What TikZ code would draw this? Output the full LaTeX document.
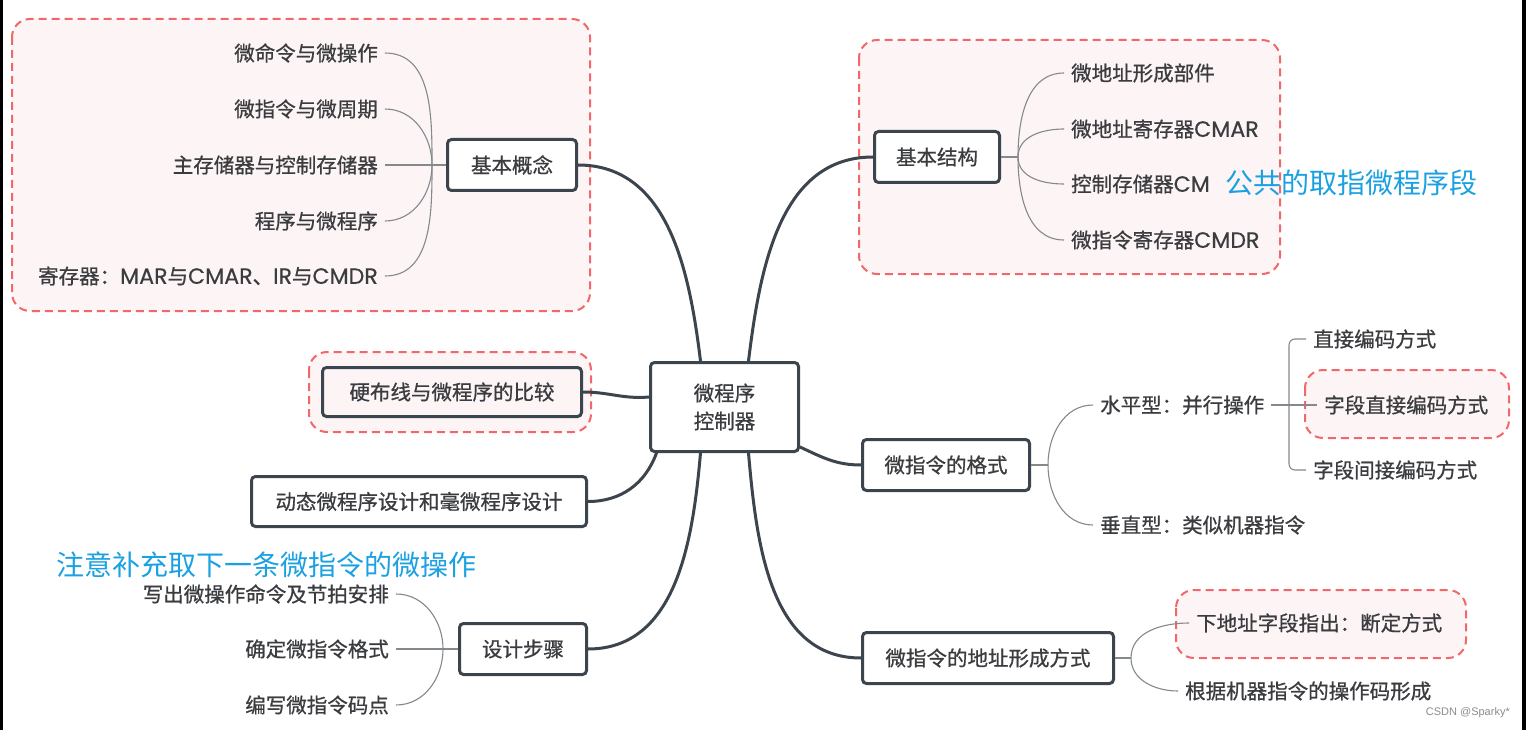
\documentclass[tikz,border=0pt]{standalone}
\usepackage{fontspec}
\setmainfont{Noto Sans CJK SC}[FakeBold=0.8]
\newfontfamily\lat{Poppins}[Scale=1.08,FakeBold=0.5]
\newfontfamily\notefont{Noto Sans CJK SC}
\newfontfamily\wmfont{Liberation Sans}
\definecolor{edge}{HTML}{3C454E}
\definecolor{txt}{HTML}{3A3C3F}
\definecolor{hlred}{HTML}{F2686A}
\definecolor{hlfill}{HTML}{FDF5F5}
\definecolor{notecol}{HTML}{1BA1E2}
\definecolor{thin}{HTML}{84898E}
\tikzset{
  topic/.style={draw=edge, line width=3pt, rounded corners=4pt, fill=white, text=txt,
    font=\fontsize{20.5}{28}\selectfont, inner sep=0pt},
  leaf/.style={text=txt, font=\fontsize{20.5}{24}\selectfont, inner xsep=7pt, inner ysep=2pt},
  hl/.style={draw=hlred, line width=2pt, dash pattern=on 8pt off 5pt, fill=hlfill, rounded corners=18pt},
  mainline/.style={draw=edge, line width=3pt, line cap=round},
  subline/.style={draw=thin, line width=1.1pt},
  notetext/.style={text=notecol, font=\notefont\fontsize{28}{32}\selectfont, inner sep=0pt},
}
\begin{document}
\begin{tikzpicture}[x=1pt,y=-1pt]
\useasboundingbox (0,0) rectangle (1526,730);
\fill[white] (0,0) rectangle (1526,730);
\fill[black] (0,0) rectangle (3,730);
\fill[black] (1522,0) rectangle (1526,730);

% highlight regions
\draw[hl] (12,19) rectangle (590,311);
\draw[hl] (859,40) rectangle (1280,274);
\draw[hl] (309,352) rectangle (591,432);
\draw[hl] (1305,370) rectangle (1509,438);
\draw[hl] (1176,590) rectangle (1466,658);

% central and topic nodes
\node[topic, minimum width=148pt, minimum height=89pt, align=center] (c) at (724.5,407) {微程序\\控制器};
\node[topic, minimum width=129pt, minimum height=51pt] (bg) at (512,165) {基本概念};
\node[topic, minimum width=125pt, minimum height=51pt] (bs) at (937,157) {基本结构};
\node[topic, minimum width=259pt, minimum height=49pt, fill=hlfill] (yb) at (452,392) {硬布线与微程序的比较};
\node[topic, minimum width=335pt, minimum height=50pt] (dt) at (419,501.5) {动态微程序设计和毫微程序设计};
\node[topic, minimum width=127pt, minimum height=51pt] (sj) at (523,649) {设计步骤};
\node[topic, minimum width=167pt, minimum height=51pt] (gs) at (946,465) {微指令的格式};
\node[topic, minimum width=251pt, minimum height=51pt] (dz) at (988,658) {微指令的地址形成方式};

% main connectors
\draw[mainline] ([xshift=-24pt]c.north) to[out=97,in=0] (bg.east);
\draw[mainline] ([xshift=24pt]c.north) to[out=83,in=180] (bs.west);
\draw[mainline] (yb.east) to[out=0,in=185] ([yshift=10pt]c.west);
\draw[mainline] ([xshift=-68pt]c.south) to[out=250,in=0] (dt.east);
\draw[mainline] ([xshift=-24pt]c.south) to[out=265,in=0] (sj.east);
\draw[mainline] ([xshift=24pt]c.south) to[out=275,in=180] (dz.west);
\draw[mainline] ([yshift=-40pt]c.east) to[out=-25,in=180] (gs.west);

% 基本概念 leaves
\node[leaf, anchor=east] (a1) at (385,53) {微命令与微操作};
\node[leaf, anchor=east] (a2) at (385,109) {微指令与微周期};
\node[leaf, anchor=east] (a3) at (385,165) {主存储器与控制存储器};
\node[leaf, anchor=east] (a4) at (385,221) {程序与微程序};
\node[leaf, anchor=east] (a5) at (385,276) {寄存器：{\lat MAR}与{\lat CMAR}、{\lat IR}与{\lat CMDR}};
\coordinate (j1) at (432,165);
\draw[subline] (a1.east) to[out=0,in=90] (j1);
\draw[subline] (a2.east) to[out=0,in=90] (j1);
\draw[subline] (a3.east) -- (j1) -- (bg.west);
\draw[subline] (a4.east) to[out=0,in=-90] (j1);
\draw[subline] (a5.east) to[out=0,in=-90] (j1);

% 基本结构 leaves
\node[leaf, anchor=west] (b1) at (1064,73) {微地址形成部件};
\node[leaf, anchor=west] (b2) at (1064,129) {微地址寄存器{\lat CMAR}};
\node[leaf, anchor=west] (b3) at (1064,184) {控制存储器{\lat CM}};
\node[leaf, anchor=west] (b4) at (1064,240) {微指令寄存器{\lat CMDR}};
\coordinate (j2) at (1018,157);
\draw[subline] (bs.east) -- (j2);
\draw[subline] (j2) to[out=90,in=180] (b1.west);
\draw[subline] (j2) to[out=90,in=180] (b2.west);
\draw[subline] (j2) to[out=-90,in=180] (b3.west);
\draw[subline] (j2) to[out=-90,in=180] (b4.west);
\node[notetext, anchor=west] (n1) at (1225,183) {公共的取指微程序段};

% 微指令的格式 leaves
\node[leaf, anchor=west] (g1) at (1093,405) {水平型：并行操作};
\node[leaf, anchor=west] (g2) at (1093,525) {垂直型：类似机器指令};
\coordinate (j3) at (1048,465);
\draw[subline] (gs.east) -- (j3);
\draw[subline] (j3) to[out=90,in=180] (g1.west);
\draw[subline] (j3) to[out=-90,in=180] (g2.west);
\node[leaf, anchor=west] (h1) at (1306,339) {直接编码方式};
\node[leaf, anchor=west] (h2) at (1317,405) {字段直接编码方式};
\node[leaf, anchor=west] (h3) at (1306,470) {字段间接编码方式};
\coordinate (bx) at (1289,405);
\draw[subline, rounded corners=6pt] (h1.west) -| (bx) |- (h3.west);
\draw[subline] (g1.east) -- (h2.west);

% 地址形成方式 leaves
\node[leaf, anchor=west] (d1) at (1189,623) {下地址字段指出：断定方式};
\node[leaf, anchor=west] (d2) at (1178,691) {根据机器指令的操作码形成};
\coordinate (j4) at (1131,658);
\draw[subline] (dz.east) -- (j4);
\draw[subline] (j4) to[out=90,in=180] (d1.west);
\draw[subline] (j4) to[out=-90,in=180] (d2.west);

% 设计步骤 leaves
\node[notetext, anchor=west] (n2) at (56,565) {注意补充取下一条微指令的微操作};
\node[leaf, anchor=east] (s1) at (396,594) {写出微操作命令及节拍安排};
\node[leaf, anchor=east] (s2) at (396,649) {确定微指令格式};
\node[leaf, anchor=east] (s3) at (396,705) {编写微指令码点};
\coordinate (j5) at (443,649);
\draw[subline] (s1.east) to[out=0,in=90] (j5);
\draw[subline] (s2.east) -- (j5) -- (sj.west);
\draw[subline] (s3.east) to[out=0,in=-90] (j5);

% watermark
\node[text=black!45, font=\wmfont\fontsize{11}{13}\selectfont, anchor=east, inner sep=0pt] (wm) at (1510,713) {CSDN @Sparky*};
\end{tikzpicture}
\end{document}
